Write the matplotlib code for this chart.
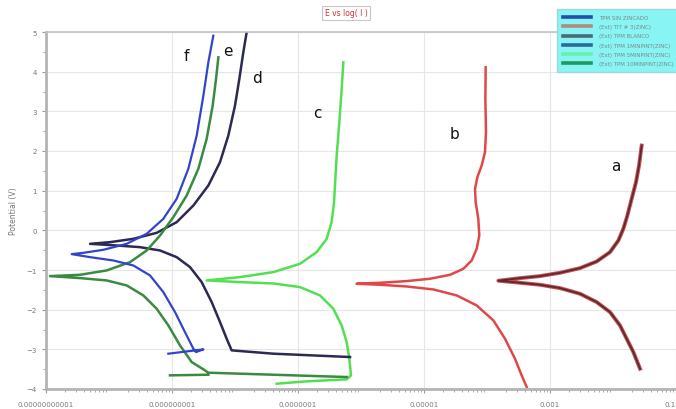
import numpy as np
import matplotlib
matplotlib.use("Agg")
import matplotlib.pyplot as plt
from matplotlib.lines import Line2D
from matplotlib.ticker import FixedLocator, LogLocator, NullFormatter, MultipleLocator
import matplotlib.patheffects as pe

# ---- data: log10(current / A) and potential (V) ----
logi_a = [-1.571, -1.677, -1.783, -1.889, -2.048, -2.259, -2.524, -2.841, -3.159, -3.476, -3.82,
          -3.476, -3.159, -2.841, -2.524, -2.259, -2.048, -1.915, -1.836, -1.772, -1.704, -1.635, -1.587, -1.545]
pot_a = [-3.488, -3.069, -2.733, -2.397, -2.061, -1.809, -1.599, -1.456, -1.372, -1.322, -1.27,
         -1.205, -1.154, -1.070, -0.953, -0.785, -0.550, -0.256, 0.038, 0.374, 0.794, 1.214, 1.633, 2.137]

logi_b = [-3.370, -3.450, -3.556, -3.714, -3.899, -4.164, -4.481, -4.852, -5.275, -5.698, -6.069,
          -5.698, -5.275, -4.905, -4.587, -4.376, -4.243, -4.164, -4.122, -4.138, -4.180, -4.190,
          -4.153, -4.085, -4.032, -4.016, -4.026, -4.021]
pot_b = [-3.950, -3.656, -3.236, -2.733, -2.271, -1.893, -1.641, -1.490, -1.415, -1.372, -1.347,
         -1.322, -1.280, -1.221, -1.121, -0.970, -0.760, -0.466, -0.130, 0.290, 0.710, 1.046,
         1.340, 1.633, 1.969, 2.473, 3.313, 4.110]

logi_c = [-7.338, -6.862, -6.228, -6.159, -6.185, -6.228, -6.307, -6.439, -6.651, -6.968, -7.391, -7.921,
          -8.450, -7.921, -7.391, -6.968, -6.704, -6.545, -6.466, -6.428, -6.413, -6.386, -6.344, -6.307, -6.280]
pot_c = [-3.866, -3.807, -3.757, -3.656, -3.236, -2.817, -2.397, -1.977, -1.641, -1.431, -1.339, -1.305,
         -1.263, -1.179, -1.053, -0.843, -0.550, -0.214, 0.206, 0.710, 1.130, 1.885, 2.725, 3.565, 4.236]

logi_d = [-6.174, -7.391, -8.053, -8.132, -8.238, -8.370, -8.529, -8.714, -8.926, -9.190, -9.508, -9.878,
          -10.301, -9.984, -9.614, -9.243, -8.926, -8.661, -8.423, -8.238, -8.106, -8.000, -7.931, -7.868, -7.815]
pot_d = [-3.194, -3.110, -3.026, -2.733, -2.313, -1.809, -1.305, -0.927, -0.676, -0.508, -0.424, -0.382,
         -0.340, -0.298, -0.214, -0.063, 0.206, 0.626, 1.130, 1.718, 2.389, 3.145, 3.817, 4.488, 4.992]

logi_e = [-9.032, -8.423, np.nan,
          -6.228, -8.423, -8.502, -8.688, -8.873, -9.058, -9.243, -9.455, -9.719, -10.037, -10.460,
          -10.936, -10.460, -10.037, -9.666, -9.402, -9.190, -8.979, -8.767, -8.582, -8.450, -8.354, -8.301, -8.264]
pot_e = [-3.656, -3.640, np.nan,
         -3.698, -3.589, -3.505, -3.320, -2.901, -2.397, -1.977, -1.641, -1.389, -1.263, -1.204,
         -1.154, -1.121, -1.011, -0.802, -0.508, -0.130, 0.332, 0.878, 1.550, 2.305, 3.145, 3.817, 4.362]

logi_f = [-9.058, -8.502, -8.619, -8.661, -8.794, -8.952, -9.138, -9.349, -9.614, -9.931, -10.301,
          -10.592, -10.407, -10.090, -9.719, -9.402, -9.138, -8.926, -8.741, -8.608, -8.502, -8.423, -8.344]
pot_f = [-3.110, -3.001, -3.069, -2.985, -2.565, -2.061, -1.557, -1.137, -0.886, -0.760, -0.676,
         -0.600, -0.567, -0.491, -0.340, -0.088, 0.290, 0.794, 1.550, 2.389, 3.397, 4.236, 4.908]

curve_letters = ["a", "b", "c", "d", "e", "f"]
letter_logi = [-1.95, -4.52, -6.70, -7.65, -8.12, -8.77]
letter_pot = [1.63, 2.43, 2.98, 3.86, 4.53, 4.40]

x_tick_values = [1e-11, 1e-9, 1e-7, 1e-5, 1e-3, 1e-1]
x_tick_labels = ["0.00000000001", "0.000000001", "0.0000001", "0.00001", "0.001", "0.1"]
y_ticks = [-4, -3, -2, -1, 0, 1, 2, 3, 4, 5]

legend_labels = ["TPM SIN ZINCADO", "(Ext) TIT # 3(ZINC)", "(Ext) TPM BLANCO",
                 "(Ext) TPM 1MINPINT(ZINC)", "(Ext) TPM 5MINPINT(ZINC)", "(Ext) TPM 10MINPINT(ZINC)"]
legend_colors = ["#1f4fb0", "#b08a80", "#4a6a78", "#2a6a9a", "#6af0a8", "#1e9a60"]

# ---- figure ----
fig = plt.figure(figsize=(6.76, 4.10), dpi=100)
fig.patch.set_facecolor("white")
ax = fig.add_axes([46 / 676, 20 / 410, 630 / 676, 357 / 410])
ax.set_xscale("log")

ax.plot(10.0 ** np.array(logi_b), pot_b, color="#e04848", lw=1.8)
ax.plot(10.0 ** np.array(logi_a), pot_a, color="#5a2a30", lw=1.3,
        path_effects=[pe.withStroke(linewidth=2.8, foreground="#c85050")])
ax.plot(10.0 ** np.array(logi_c), pot_c, color="#52e052", lw=1.8)
ax.plot(10.0 ** np.array(logi_d), pot_d, color="#2a2a52", lw=1.8)
ax.plot(10.0 ** np.array(logi_e), pot_e, color="#3a8a40", lw=1.8)
ax.plot(10.0 ** np.array(logi_f), pot_f, color="#3344cc", lw=1.6)

for lab, lx, ly in zip(curve_letters, letter_logi, letter_pot):
    ax.text(10.0 ** lx, ly, lab, fontsize=11, color="#111111", ha="center", va="center")

ax.set_xlim(1e-11, 1e-1)
ax.set_ylim(-4, 5)
ax.xaxis.set_major_locator(FixedLocator(x_tick_values))
ax.set_xticklabels(x_tick_labels)
ax.get_xticklabels()[-1].set_horizontalalignment("right")
ax.xaxis.set_minor_locator(LogLocator(base=10, subs=np.arange(2, 10), numticks=100))
ax.xaxis.set_minor_formatter(NullFormatter())
ax.set_yticks(y_ticks)
ax.yaxis.set_minor_locator(MultipleLocator(0.5))
ax.tick_params(axis="both", which="major", labelsize=5, colors="#9a9a9a", labelcolor="#777777", length=3)
ax.tick_params(axis="both", which="minor", colors="#9a9a9a", length=2)
ax.tick_params(axis="x", which="major", pad=6)
ax.grid(True, which="major", color="#e6e6e6", lw=0.8)
ax.set_axisbelow(True)

for s in ["left", "bottom"]:
    ax.spines[s].set_color("#b4b4b4")
    ax.spines[s].set_linewidth(2)
ax.spines["top"].set_color("#c4c4c4")
ax.spines["top"].set_linewidth(1.2)
ax.spines["right"].set_visible(False)

ax.set_ylabel("Potential (V)", fontsize=5.5, color="#777777", labelpad=6)

# title
fig.text(346 / 676, 1 - 14 / 410, "E vs log( I )", fontsize=5.5, color="#d03030",
         ha="center", va="center",
         bbox=dict(boxstyle="square,pad=0.35", facecolor="white", edgecolor="#c8c8c8", lw=0.8))
fig.add_artist(Line2D([327 / 676, 365 / 676], [1 - 19.5 / 410, 1 - 19.5 / 410], color="#d03030", lw=0.6))

# legend
handles = [Line2D([], [], color=c, lw=2.6) for c in legend_colors]
leg = fig.legend(handles, legend_labels, loc="upper left", bbox_to_anchor=(557 / 676, 1 - 10 / 410),
                 fontsize=4.0, frameon=True, handlelength=5.0, handletextpad=1.4,
                 labelspacing=0.75, borderpad=1.1, borderaxespad=0.0, labelcolor="#7a8a8a")
leg.get_frame().set_facecolor("#88f4f4")
leg.get_frame().set_edgecolor("#a0d8d8")
leg.get_frame().set_alpha(1.0)
leg.get_frame().set_boxstyle("square", pad=0.0)

fig.savefig("out.png", dpi=100, facecolor="white")
